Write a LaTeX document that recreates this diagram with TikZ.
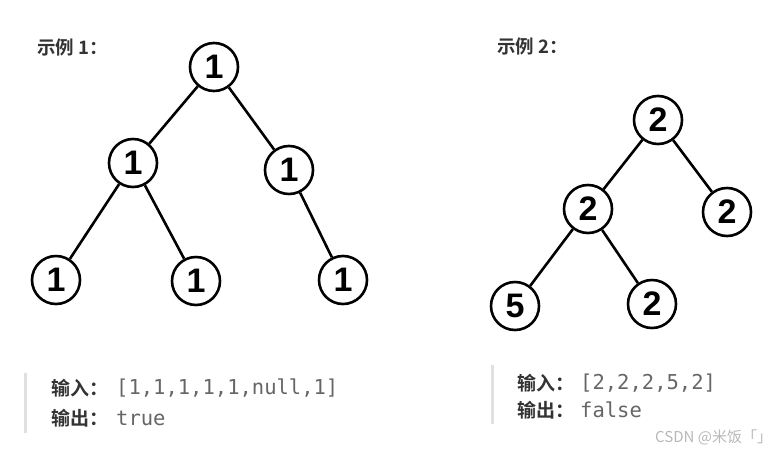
\documentclass[tikz,border=0pt]{standalone}
\usepackage{fontspec}
\setmainfont{Noto Sans}
\newfontfamily\cjk{Noto Sans CJK SC}[BoldFont={Noto Sans CJK SC Bold}]
\newfontfamily\mono{DejaVu Sans Mono}
\newfontfamily\digitfont{Liberation Sans Bold}
\definecolor{titlegray}{HTML}{333333}
\definecolor{valgray}{HTML}{666666}
\definecolor{bargray}{HTML}{E0E0E0}
\definecolor{wmgray}{HTML}{B8B8B8}
\begin{document}
\begin{tikzpicture}[x=1pt,y=1pt,
  tn/.style={circle,draw=black,line width=2.6pt,fill=white,minimum size=48pt,inner sep=0pt,
    font=\fontsize{34}{34}\selectfont\digitfont},
  edge/.style={line width=2.6pt,black},
  ttl/.style={anchor=west,inner sep=0pt,text=titlegray,font=\fontsize{18.5}{18.5}\selectfont\bfseries\cjk},
  lbl/.style={anchor=west,inner sep=0pt,text=titlegray,font=\fontsize{19}{19}\selectfont\bfseries\cjk},
  val/.style={anchor=west,inner sep=0pt,text=valgray,font=\fontsize{20.5}{20.5}\selectfont\mono},
  bar/.style={line width=3pt,bargray},
  wm/.style={anchor=west,inner sep=0pt,text=wmgray,font=\fontsize{15}{15}\selectfont\cjk}]
\useasboundingbox (0,0) rectangle (783,-453);
% titles
\node[ttl] (t1) at (37,-47) {示例 1：};
\node[ttl] (t2) at (497,-46) {示例 2：};
% tree 1
\node[tn] (a) at (214,-67) {1};
\node[tn] (b) at (133,-163) {1};
\node[tn] (c) at (289,-170) {1};
\node[tn] (d) at (56,-280) {1};
\node[tn] (e) at (196,-281) {1};
\node[tn] (f) at (343,-280) {1};
\draw[edge] (a) -- (b);
\draw[edge] (a) -- (c);
\draw[edge] (b) -- (d);
\draw[edge] (b) -- (e);
\draw[edge] (c) -- (f);
% tree 2
\node[tn] (g) at (658,-120) {2};
\node[tn] (h) at (588,-209) {2};
\node[tn] (i) at (727,-212) {2};
\node[tn] (j) at (515,-306) {5};
\node[tn] (k) at (652,-304) {2};
\draw[edge] (g) -- (h);
\draw[edge] (g) -- (i);
\draw[edge] (h) -- (j);
\draw[edge] (h) -- (k);
% text block 1
\coordinate (b1t) at (25,-373);
\coordinate (b1b) at (25,-433);
\draw[bar] (b1t) -- (b1b);
\node[lbl] (in1) at (51,-388) {输入：};
\node[val] (v1) at (116,-388) {[1,1,1,1,1,null,1]};
\node[lbl] (out1) at (51,-418) {输出：};
\node[val] (w1) at (116,-418) {true};
% text block 2
\coordinate (b2t) at (492,-365);
\coordinate (b2b) at (492,-424);
\draw[bar] (b2t) -- (b2b);
\node[lbl] (in2) at (517,-383) {输入：};
\node[val] (v2) at (580,-383) {[2,2,2,5,2]};
\node[lbl] (out2) at (517,-410) {输出：};
\node[val] (w2) at (580,-410) {false};
% watermark
\node[wm] (wm) at (655,-437) {CSDN @米饭「」};
\end{tikzpicture}
\end{document}
